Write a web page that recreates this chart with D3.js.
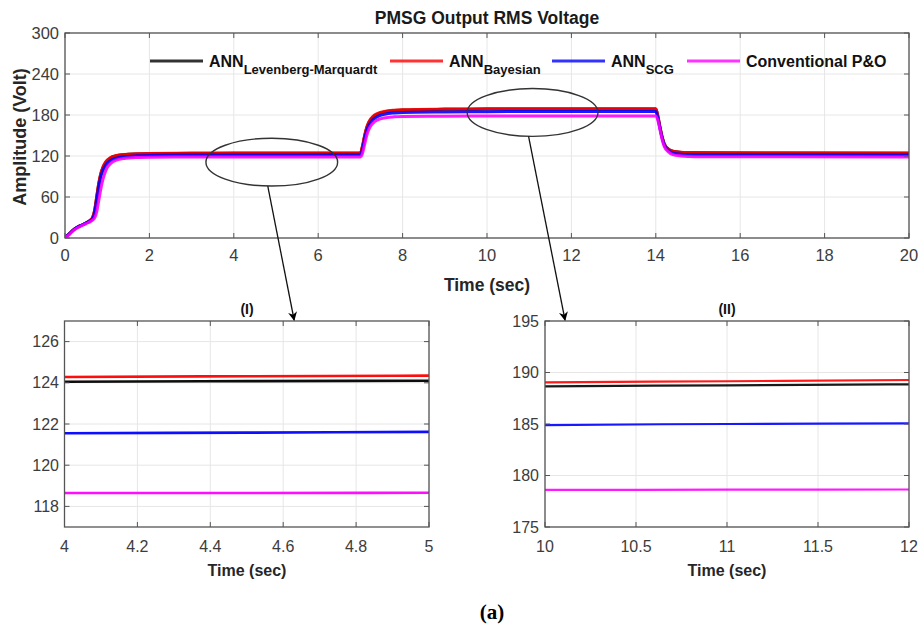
<!DOCTYPE html>
<html>
<head>
<meta charset="utf-8">
<script src="https://cdn.jsdelivr.net/npm/d3@7"></script>
<style>
  html, body { margin: 0; padding: 0; background: #fff; }
  svg { display: block; }
  text { font-family: Arial, "Liberation Sans", sans-serif; }
  text.serif { font-family: "Liberation Serif", "Times New Roman", serif; }
</style>
</head>
<body>
<svg id="chart" width="919" height="624"></svg>
<script>
// ---- Simulation output (time in s, RMS voltage in V) ----
const time = [0, 0.1, 0.2, 0.3, 0.4, 0.5, 0.6, 0.65, 0.7, 0.75, 0.8, 0.85, 0.9, 0.95, 1.0, 1.1, 1.2, 1.4, 1.7, 2,
  3, 4, 4.5, 5, 6, 7, 7.05, 7.1, 7.15, 7.2, 7.3, 7.4, 7.6, 7.8, 8, 9, 10, 11, 12, 13, 14,
  14.05, 14.1, 14.15, 14.2, 14.3, 14.4, 14.6, 14.8, 15, 17, 20];

const annLM = [0, 6, 12, 16, 19, 22, 26, 29, 39, 59, 79, 94, 103, 109, 113, 118, 120, 122, 122.9, 123.3,
  123.85, 124.05, 124.08, 124.1, 124.15, 124.15,
  134, 149, 161, 169, 177, 181, 185, 186.5, 187.4, 188.3, 188.66, 188.75, 188.85, 188.9, 188.9,
  178, 162, 148, 138, 130, 127, 125.3, 124.8, 124.6, 124.3, 124.2];

const annBayesian = [0, 6, 12, 16, 19, 22, 26, 30, 40, 60, 80, 95, 104, 110, 114, 118.5, 120.5, 122.3, 123.2, 123.6,
  124.05, 124.28, 124.32, 124.35, 124.4, 124.4,
  135, 150, 162, 170, 178, 182, 185.5, 187, 187.8, 188.7, 189.05, 189.15, 189.27, 189.3, 189.3,
  178, 162, 148, 138, 130, 127, 125.5, 125, 124.8, 124.5, 124.4];

const annSCG = [0, 6, 12, 16, 19, 22, 25, 28, 36, 55, 75, 90, 99, 105, 109.5, 114, 116.5, 118.8, 120.3, 120.9,
  121.4, 121.55, 121.58, 121.62, 121.66, 121.7,
  130, 145, 157, 165, 173, 177.5, 181.5, 183, 183.8, 184.5, 184.9, 185, 185.07, 185.15, 185.2,
  175, 160, 146, 136, 128, 124.5, 122.5, 122, 121.8, 121.7, 121.6];

const conventionalPO = [0, 5, 11, 15, 18, 21, 24, 26, 29, 38, 55, 72, 86, 96, 103, 110, 113.5, 116.5, 117.9, 118.3,
  118.6, 118.65, 118.65, 118.66, 118.68, 118.7,
  124, 137, 150, 159, 168, 172.5, 176, 177.3, 177.8, 178.3, 178.6, 178.62, 178.64, 178.66, 178.7,
  172, 158, 144, 134, 126, 122, 120, 119.3, 119, 118.8, 118.7];

const seriesNames = ["Levenberg-Marquardt", "Bayesian", "SCG", "Conventional P&O"];
const seriesColors = ["#000000", "#ff0000", "#0000ff", "#ff00ff"];
const seriesValues = [annLM, annBayesian, annSCG, conventionalPO];

// ---- Tick labels ----
const mainXTicks = [0, 2, 4, 6, 8, 10, 12, 14, 16, 18, 20];
const mainYTicks = [0, 60, 120, 180, 240, 300];
const zoom1XTicks = [4, 4.2, 4.4, 4.6, 4.8, 5];
const zoom1YTicks = [118, 120, 122, 124, 126];
const zoom2XTicks = [10, 10.5, 11, 11.5, 12];
const zoom2YTicks = [175, 180, 185, 190, 195];

const svg = d3.select("#chart");

const series = seriesValues.map((vals, i) => ({
  name: seriesNames[i],
  color: seriesColors[i],
  points: time.map((t, k) => [t, vals[k]])
}));

let clipId = 0;
function drawPanel(cfg) {
  const x = d3.scaleLinear().domain(cfg.xDomain).range([cfg.left, cfg.right]);
  const y = d3.scaleLinear().domain(cfg.yDomain).range([cfg.bottom, cfg.top]);
  const g = svg.append("g");

  // grid
  g.selectAll(".gx").data(cfg.xTicks).join("line")
    .attr("x1", d => x(d)).attr("x2", d => x(d))
    .attr("y1", cfg.top).attr("y2", cfg.bottom)
    .attr("stroke", "#e6e6e6").attr("stroke-width", 1);
  g.selectAll(".gy").data(cfg.yTicks).join("line")
    .attr("x1", cfg.left).attr("x2", cfg.right)
    .attr("y1", d => y(d)).attr("y2", d => y(d))
    .attr("stroke", "#e6e6e6").attr("stroke-width", 1);

  // data lines
  const id = "clip" + (clipId++);
  svg.append("clipPath").attr("id", id).append("rect")
    .attr("x", cfg.left).attr("y", cfg.top)
    .attr("width", cfg.right - cfg.left).attr("height", cfg.bottom - cfg.top);
  const line = d3.line().x(d => x(d[0])).y(d => y(d[1])).curve(d3.curveMonotoneX);
  g.append("g").attr("clip-path", `url(#${id})`)
    .selectAll("path").data(series).join("path")
    .attr("d", d => line(d.points))
    .attr("fill", "none")
    .attr("stroke", d => d.color)
    .attr("stroke-width", cfg.lineWidth)
    .attr("stroke-opacity", cfg.lineOpacity);

  // box
  g.append("rect")
    .attr("x", cfg.left).attr("y", cfg.top)
    .attr("width", cfg.right - cfg.left).attr("height", cfg.bottom - cfg.top)
    .attr("fill", "none").attr("stroke", "#555").attr("stroke-width", 1.3);

  // inward ticks on all four sides
  const tl = 5;
  cfg.xTicks.forEach(v => {
    g.append("line").attr("x1", x(v)).attr("x2", x(v)).attr("y1", cfg.bottom).attr("y2", cfg.bottom - tl).attr("stroke", "#555");
    g.append("line").attr("x1", x(v)).attr("x2", x(v)).attr("y1", cfg.top).attr("y2", cfg.top + tl).attr("stroke", "#555");
  });
  cfg.yTicks.forEach(v => {
    g.append("line").attr("x1", cfg.left).attr("x2", cfg.left + tl).attr("y1", y(v)).attr("y2", y(v)).attr("stroke", "#555");
    g.append("line").attr("x1", cfg.right).attr("x2", cfg.right - tl).attr("y1", y(v)).attr("y2", y(v)).attr("stroke", "#555");
  });

  // tick labels
  g.selectAll(".xl").data(cfg.xTicks).join("text")
    .attr("x", d => x(d)).attr("y", cfg.bottom + cfg.xLabelGap)
    .attr("text-anchor", "middle").attr("dominant-baseline", "central")
    .attr("font-size", cfg.tickFont).attr("fill", "#3c3c3c")
    .text(d => d);
  g.selectAll(".yl").data(cfg.yTicks).join("text")
    .attr("x", cfg.left - cfg.yLabelGap).attr("y", d => y(d))
    .attr("text-anchor", "end").attr("dominant-baseline", "central")
    .attr("font-size", cfg.tickFont).attr("fill", "#3c3c3c")
    .text(d => d);

  return { x, y, g };
}

// ---- main panel ----
const main = drawPanel({
  left: 65, right: 909, top: 33, bottom: 238,
  xDomain: [0, 20], yDomain: [0, 300],
  xTicks: mainXTicks, yTicks: mainYTicks,
  tickFont: 16.5, xLabelGap: 17, yLabelGap: 6,
  lineWidth: 3, lineOpacity: 0.9
});

svg.append("text").attr("x", 487).attr("y", 18)
  .attr("text-anchor", "middle").attr("dominant-baseline", "central")
  .attr("font-size", 17.5).attr("font-weight", "bold").attr("fill", "#1a1a1a")
  .text("PMSG Output RMS Voltage");
svg.append("text").attr("x", 487).attr("y", 285)
  .attr("text-anchor", "middle").attr("dominant-baseline", "central")
  .attr("font-size", 17.5).attr("font-weight", "bold").attr("fill", "#262626")
  .text("Time (sec)");
svg.append("text")
  .attr("transform", "translate(20,137) rotate(-90)")
  .attr("text-anchor", "middle").attr("dominant-baseline", "central")
  .attr("font-size", 18).attr("font-weight", "bold").attr("fill", "#262626")
  .text("Amplitude (Volt)");

// legend
const legendItems = [
  { x0: 150, main: "ANN", sub: "Levenberg-Marquardt" },
  { x0: 390, main: "ANN", sub: "Bayesian" },
  { x0: 552, main: "ANN", sub: "SCG" },
  { x0: 687, main: "Conventional P&O", sub: null }
];
legendItems.forEach((it, i) => {
  svg.append("line").attr("x1", it.x0).attr("x2", it.x0 + 53)
    .attr("y1", 61).attr("y2", 61)
    .attr("stroke", seriesColors[i]).attr("stroke-width", 3).attr("stroke-opacity", 0.8);
  const t = svg.append("text").attr("x", it.x0 + 59).attr("y", 67)
    .attr("font-size", 16).attr("font-weight", "bold").attr("fill", "#111");
  t.append("tspan").text(it.main);
  if (it.sub) t.append("tspan").attr("font-size", 13).attr("dy", 7).text(it.sub);
});

// ---- zoom panels ----
const z1 = drawPanel({
  left: 64.5, right: 429, top: 321, bottom: 527,
  xDomain: [4, 5], yDomain: [117, 127],
  xTicks: zoom1XTicks, yTicks: zoom1YTicks,
  tickFont: 16, xLabelGap: 19, yLabelGap: 5.5,
  lineWidth: 2.6, lineOpacity: 0.95
});
const z2 = drawPanel({
  left: 545, right: 909, top: 321, bottom: 527,
  xDomain: [10, 12], yDomain: [175, 195],
  xTicks: zoom2XTicks, yTicks: zoom2YTicks,
  tickFont: 16, xLabelGap: 19, yLabelGap: 6,
  lineWidth: 2.2, lineOpacity: 0.9
});

[[z1, "(I)", 247], [z2, "(II)", 727]].forEach(([p, title, cx]) => {
  svg.append("text").attr("x", cx).attr("y", 309)
    .attr("text-anchor", "middle").attr("dominant-baseline", "central")
    .attr("font-size", 14).attr("font-weight", "bold").attr("fill", "#111").text(title);
  svg.append("text").attr("x", cx).attr("y", 570)
    .attr("text-anchor", "middle").attr("dominant-baseline", "central")
    .attr("font-size", 16).attr("font-weight", "bold").attr("fill", "#262626").text("Time (sec)");
});

// ---- ellipses marking the zoomed windows, with arrows to the panels ----
const defs = svg.append("defs");
defs.append("marker").attr("id", "arrowhead")
  .attr("viewBox", "0 0 10 10").attr("refX", 9).attr("refY", 5)
  .attr("markerWidth", 9).attr("markerHeight", 9)
  .attr("markerUnits", "userSpaceOnUse").attr("orient", "auto")
  .append("path").attr("d", "M0,0 L10,5 L0,10 L3,5 Z").attr("fill", "#000");

const callouts = [
  { cx: 4.9, cy: 111, rx: 1.56, ry: 35, panel: z1, tipX: 4.63 },
  { cx: 11.08, cy: 183.7, rx: 1.55, ry: 35, panel: z2, tipX: 10.11 }
];
callouts.forEach(c => {
  const ex = main.x(c.cx), ey = main.y(c.cy);
  const erx = main.x(c.cx + c.rx) - ex, ery = main.y(c.cy - c.ry) - ey;
  svg.append("ellipse").attr("cx", ex).attr("cy", ey).attr("rx", erx).attr("ry", ery)
    .attr("fill", "none").attr("stroke", "#333").attr("stroke-width", 1.4);
  svg.append("line")
    .attr("x1", ex - 4).attr("y1", ey + ery)
    .attr("x2", c.panel.x(c.tipX)).attr("y2", c.panel.y.range()[1] - 1)
    .attr("stroke", "#111").attr("stroke-width", 1.3)
    .attr("marker-end", "url(#arrowhead)");
});

svg.append("text").attr("class", "serif").attr("x", 492).attr("y", 612)
  .attr("text-anchor", "middle").attr("dominant-baseline", "central")
  .attr("font-size", 21).attr("font-weight", "bold").attr("fill", "#000").text("(a)");
</script>
</body>
</html>
